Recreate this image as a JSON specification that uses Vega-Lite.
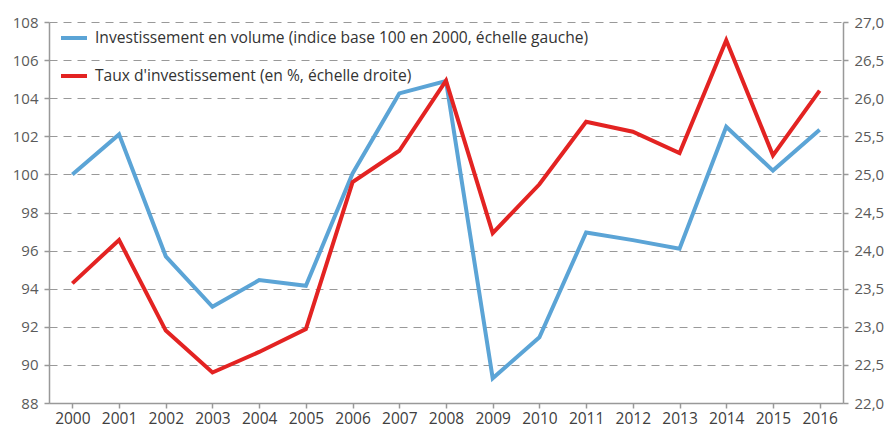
{
  "$schema": "https://vega.github.io/schema/vega-lite/v6.json",
  "width": 794,
  "height": 381,
  "autosize": {"type": "none"},
  "padding": {"left": 49, "top": 22, "right": 46, "bottom": 27},
  "background": "white",
  "config": {
    "view": {"stroke": null},
    "font": "Open Sans",
    "axis": {"labelFont": "Open Sans", "labelFontSize": 15, "domainColor": "#999999", "tickColor": "#999999", "tickSize": 5, "domainWidth": 1.5, "tickWidth": 1.5}
  },
  "data": {
    "values": [
      {"annee": "2000", "volume": 100, "taux": 23.57},
      {"annee": "2001", "volume": 102.1, "taux": 24.14},
      {"annee": "2002", "volume": 95.7, "taux": 22.95},
      {"annee": "2003", "volume": 93.05, "taux": 22.4},
      {"annee": "2004", "volume": 94.45, "taux": 22.67},
      {"annee": "2005", "volume": 94.15, "taux": 22.97},
      {"annee": "2006", "volume": 100.05, "taux": 24.9},
      {"annee": "2007", "volume": 104.25, "taux": 25.31},
      {"annee": "2008", "volume": 104.9, "taux": 26.23},
      {"annee": "2009", "volume": 89.3, "taux": 24.23},
      {"annee": "2010", "volume": 91.45, "taux": 24.87},
      {"annee": "2011", "volume": 96.95, "taux": 25.69},
      {"annee": "2012", "volume": 96.55, "taux": 25.56},
      {"annee": "2013", "volume": 96.1, "taux": 25.28},
      {"annee": "2014", "volume": 102.5, "taux": 26.76},
      {"annee": "2015", "volume": 100.2, "taux": 25.25},
      {"annee": "2016", "volume": 102.35, "taux": 26.1}
    ]
  },
  "encoding": {
    "x": {
      "field": "annee", "type": "ordinal", "title": null,
      "scale": {"paddingInner": 0, "paddingOuter": 0},
      "axis": {"labelAngle": 0, "bandPosition": 0, "labelColor": "#404040", "labelPadding": 3, "labelFontSize": 15.5}
    }
  },
  "layer": [
    {
      "mark": {"type": "line", "strokeWidth": 4, "strokeJoin": "miter"},
      "encoding": {
        "y": {
          "field": "volume", "type": "quantitative", "title": null,
          "scale": {"domain": [88, 108], "nice": false, "zero": false},
          "axis": {"values": [88, 90, 92, 94, 96, 98, 100, 102, 104, 106, 108], "grid": true, "gridDash": [8, 6], "gridColor": "#999999", "gridWidth": 1.2, "labelColor": "#5a5a5a", "labelPadding": 6}
        },
        "color": {
          "datum": "Investissement en volume (indice base 100 en 2000, échelle gauche)",
          "type": "nominal",
          "scale": {
            "domain": ["Investissement en volume (indice base 100 en 2000, échelle gauche)", "Taux d'investissement (en %, échelle droite)"],
            "range": ["#5ba4d6", "#e32322"]
          },
          "legend": {
            "title": null, "orient": "none", "legendX": 10, "legendY": 1,
            "symbolType": "stroke", "symbolSize": 676, "symbolStrokeWidth": 4,
            "labelFontSize": 15.6, "labelColor": "#333333", "labelFont": "Open Sans", "labelLimit": 0,
            "rowPadding": 14, "labelOffset": 6
          }
        }
      }
    },
    {
      "mark": {"type": "line", "strokeWidth": 4, "strokeJoin": "miter"},
      "encoding": {
        "y": {
          "field": "taux", "type": "quantitative", "title": null,
          "scale": {"domain": [22, 27], "nice": false, "zero": false},
          "axis": {"orient": "right", "values": [22, 22.5, 23, 23.5, 24, 24.5, 25, 25.5, 26, 26.5, 27], "grid": false, "labelColor": "#5a5a5a", "labelPadding": 6, "labelExpr": "replace(format(datum.value, '.1f'), '.', ',')"}
        },
        "color": {"datum": "Taux d'investissement (en %, échelle droite)", "type": "nominal"}
      }
    }
  ],
  "resolve": {"scale": {"y": "independent"}}
}
